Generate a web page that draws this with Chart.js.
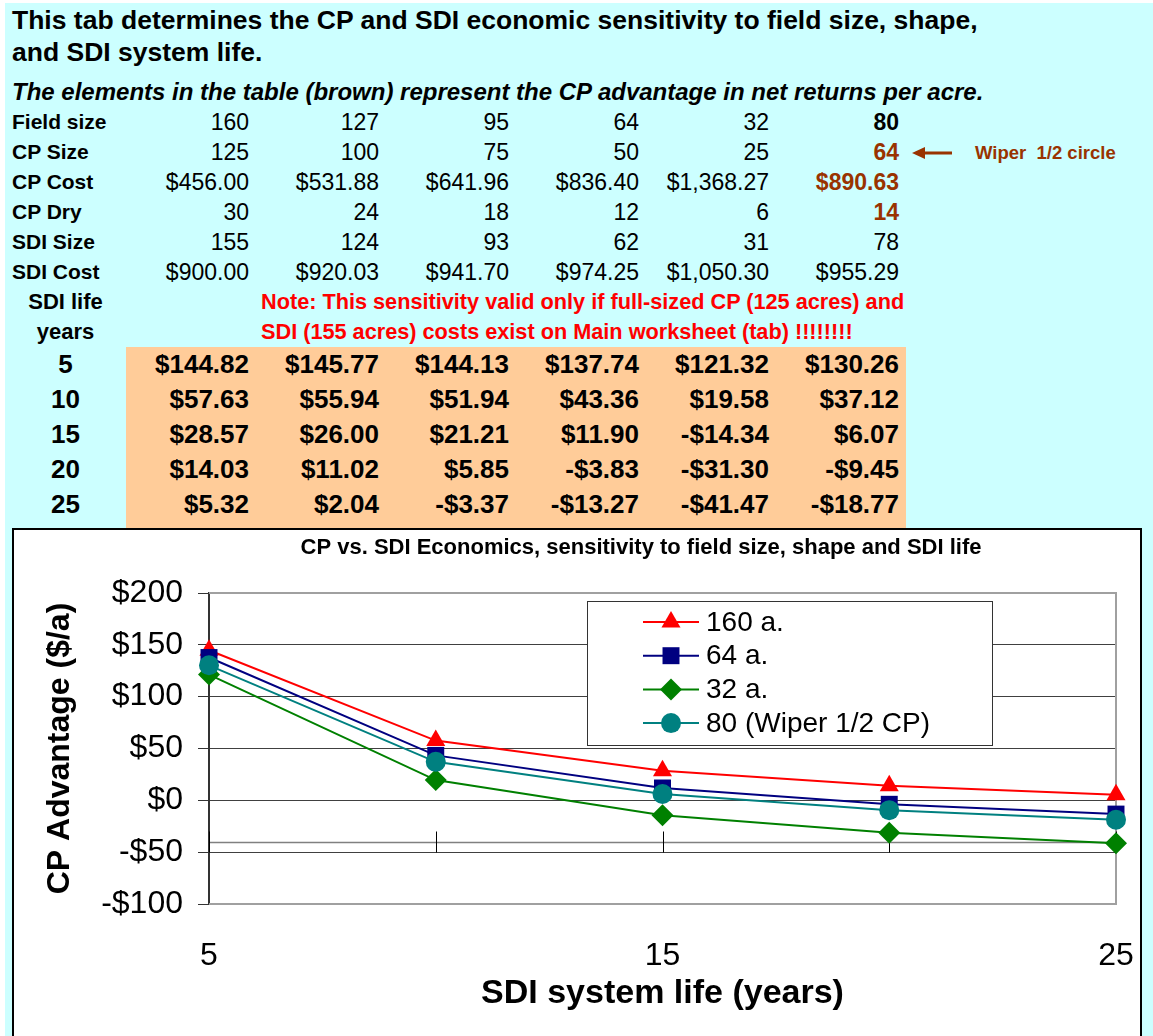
<!DOCTYPE html>
<html>
<head>
<meta charset="utf-8">
<title>CP vs. SDI Economics</title>
<script src="https://cdn.jsdelivr.net/npm/chart.js@4.4.1/dist/chart.umd.min.js"></script>
<style>
    html, body { margin: 0; padding: 0; width: 1153px; height: 1036px; overflow: hidden; background: #fff;
        font-family: "Liberation Sans", Arial, sans-serif; color: #000; }
    #sheet { position: absolute; left: 5px; top: 3px; width: 1148px; height: 1033px; background: #ccffff; }
    .head { position: absolute; left: 12px; font-weight: bold; white-space: nowrap; }
    #t1 { top: 4px; font-size: 26.5px; line-height: 32px; }
    #t2 { top: 77px; font-size: 24px; line-height: 30px; font-style: italic; }
    #grid { position: absolute; left: 5px; top: 107px; width: 1143px; border-collapse: collapse; table-layout: fixed; }
    #grid td { padding: 0 7px 0 0; white-space: nowrap; text-align: right; font-size: 23px; overflow: visible; }
    #grid td.lbl { text-align: left; padding-left: 7px; font-weight: bold; font-size: 21px; }
    #grid td.ctr { text-align: center; padding: 0; font-weight: bold; font-size: 22px; }
    #grid tr.top td { height: 30px; }
    #grid tr.adv td { height: 35px; font-weight: bold; font-size: 26px; }
    #grid tr.adv td.val { background: #ffcc99; }
    #grid td.bold { font-weight: bold; }
    #grid td.brown { font-weight: bold; color: #993300; }
    #grid td.note { color: #ff0000; font-weight: bold; font-size: 21.7px; text-align: left; padding-left: 5px; }
    #grid td.side { text-align: left; padding-left: 6px; color: #993300; font-weight: bold; font-size: 18.5px; }
    #box { position: absolute; left: 12px; top: 528px; width: 1126px; height: 506px; background: #fff;
        border: 2px solid #000; z-index: 2; }
    #wrap { position: relative; width: 1126px; height: 506px; }
</style>
</head>
<body>
<div id="sheet"></div>
<div class="head" id="t1">This tab determines the CP and SDI economic sensitivity to field size, shape,<br>and SDI system life.</div>
<div class="head" id="t2">The elements in the table (brown) represent the CP advantage in net returns per acre.</div>
<table id="grid"></table>
<div id="box"><div id="wrap"><canvas id="lineChart"></canvas></div></div>

<script>
// table inputs (columns = field sizes)
const fieldSize = [160, 127, 95, 64, 32, 80];
const cpSize = [125, 100, 75, 50, 25, 64];
const cpCost = [456.0, 531.88, 641.96, 836.4, 1368.27, 890.63];
const cpDry = [30, 24, 18, 12, 6, 14];
const sdiSize = [155, 124, 93, 62, 31, 78];
const sdiCost = [900.0, 920.03, 941.7, 974.25, 1050.3, 955.29];

// SDI life (years) and CP advantage ($/a) per field size
const years = [5, 10, 15, 20, 25];
const adv160 = [144.82, 57.63, 28.57, 14.03, 5.32];
const adv127 = [145.77, 55.94, 26.0, 11.02, 2.04];
const adv95 = [144.13, 51.94, 21.21, 5.85, -3.37];
const adv64 = [137.74, 43.36, 11.9, -3.83, -13.27];
const adv32 = [121.32, 19.58, -14.34, -31.3, -41.47];
const adv80 = [130.26, 37.12, 6.07, -9.45, -18.77];

const seriesNames = ["160 a.", "64 a.", "32 a.", "80 (Wiper 1/2 CP)"];
const xTickLabels = [5, 15, 25];
const yMin = -100;
const yMax = 200;
const yStep = 50;
const xAxisCross = -40;

const money = (v) => {
    const s = Math.abs(v).toFixed(2).replace(/\B(?=(\d{3})+(?!\d))/g, ",");
    return (v < 0 ? "-$" : "$") + s;
};

// Table
const grid = document.getElementById("grid");
let html = '<colgroup><col style="width:121px">';
for (let i = 0; i < 6; i++) html += '<col style="width:130px">';
html += '<col style="width:242px"></colgroup>';

const lastCls = ["bold", "brown", "brown", "brown", "", ""];
const topRows = [
    ["Field size", fieldSize.map(String)],
    ["CP Size", cpSize.map(String)],
    ["CP Cost", cpCost.map(money)],
    ["CP Dry", cpDry.map(String)],
    ["SDI Size", sdiSize.map(String)],
    ["SDI Cost", sdiCost.map(money)],
];
topRows.forEach((row, r) => {
    html += '<tr class="top"><td class="lbl">' + row[0] + "</td>";
    row[1].forEach((v, i) => {
        html += '<td class="' + (i === 5 ? lastCls[r] : "") + '">' + v + "</td>";
    });
    if (r === 1) {
        html += '<td class="side"><svg width="40" height="14" style="vertical-align:middle">' +
            '<polygon points="0,7 13,1 13,13" fill="#993300"/><rect x="12" y="5.5" width="28" height="3" fill="#993300"/></svg>' +
            '<span style="margin-left:23px;vertical-align:middle">Wiper&nbsp; 1/2 circle</span></td>';
    } else {
        html += "<td></td>";
    }
    html += "</tr>";
});
html += '<tr class="top"><td class="ctr">SDI life</td><td></td><td class="note" colspan="5">' +
    "Note: This sensitivity valid only if full-sized CP (125 acres) and</td><td></td></tr>";
html += '<tr class="top"><td class="ctr">years</td><td></td><td class="note" colspan="5">' +
    "SDI (155 acres) costs exist on Main worksheet (tab) !!!!!!!!</td><td></td></tr>";

const advCols = [adv160, adv127, adv95, adv64, adv32, adv80];
years.forEach((yr, r) => {
    html += '<tr class="adv"><td class="ctr">' + yr + "</td>";
    advCols.forEach((col) => {
        html += '<td class="val">' + money(col[r]) + "</td>";
    });
    html += "<td></td></tr>";
});
html += '<tr class="adv"><td class="ctr"></td>';
advCols.forEach(() => {
    html += '<td class="val">#VALUE!</td>';
});
html += "<td></td></tr>";
grid.innerHTML = html;

// Chart
Chart.defaults.font.family = '"Liberation Sans", Arial, sans-serif';
Chart.defaults.color = "#000";

const points = (vals) => years.map((yr, i) => ({ x: yr, y: vals[i] }));

const plotFrame = {
    id: "plotFrame",
    beforeDatasetsDraw(chart) {
        const { ctx, chartArea: a, scales } = chart;
        ctx.save();
        // gray plot border (top, right, bottom)
        ctx.strokeStyle = "#a0a0a0";
        ctx.lineWidth = 2;
        ctx.beginPath();
        ctx.moveTo(a.left, a.top);
        ctx.lineTo(a.right, a.top);
        ctx.lineTo(a.right, a.bottom);
        ctx.lineTo(a.left, a.bottom);
        ctx.stroke();
        // category axis crossing the value axis
        const yc = Math.round(scales.y.getPixelForValue(xAxisCross)) + 0.5;
        ctx.strokeStyle = "#808080";
        ctx.lineWidth = 1.5;
        ctx.beginPath();
        ctx.moveTo(a.left, yc);
        ctx.lineTo(a.right, yc);
        ctx.stroke();
        ctx.strokeStyle = "#000";
        ctx.lineWidth = 1;
        years.forEach((yr) => {
            const xp = Math.round(scales.x.getPixelForValue(yr)) + 0.5;
            ctx.beginPath();
            ctx.moveTo(xp, yc - 11);
            ctx.lineTo(xp, yc + 10);
            ctx.stroke();
        });
        ctx.restore();
    },
    afterDraw(chart) {
        const { ctx, chartArea: a } = chart;
        ctx.save();
        // title
        ctx.fillStyle = "#000";
        ctx.font = 'bold 22px "Liberation Sans", Arial, sans-serif';
        ctx.textAlign = "center";
        ctx.textBaseline = "middle";
        ctx.fillText("CP vs. SDI Economics, sensitivity to field size, shape and SDI life", a.left + 432, 18);
        // legend
        const lx = a.left + 378;
        const ly = a.top + 8;
        ctx.fillStyle = "#fff";
        ctx.fillRect(lx, ly, 405, 144);
        ctx.strokeStyle = "#333";
        ctx.lineWidth = 1;
        ctx.strokeRect(lx + 0.5, ly + 0.5, 405, 144);
        ctx.font = '28px "Liberation Sans", Arial, sans-serif';
        ctx.textAlign = "left";
        chart.data.datasets.forEach((ds, i) => {
            const cy = ly + 21 + i * 33.7;
            ctx.strokeStyle = ds.borderColor;
            ctx.lineWidth = 2;
            ctx.beginPath();
            ctx.moveTo(lx + 56, cy);
            ctx.lineTo(lx + 112, cy);
            ctx.stroke();
            ctx.fillStyle = ds.backgroundColor;
            Chart.helpers.drawPoint(ctx, {
                pointStyle: ds.pointStyle,
                radius: ds.pointRadius,
                rotation: 0,
                borderWidth: 0,
            }, lx + 84, cy);
            ctx.fillStyle = "#000";
            ctx.fillText(ds.label, lx + 119, cy + 1);
        });
        ctx.restore();
    },
};

const lineChart = document.getElementById("lineChart");
new Chart(lineChart, {
    type: "line",
    data: {
        datasets: [
            {
                label: seriesNames[0],
                data: points(adv160),
                borderColor: "#ff0000",
                backgroundColor: "#ff0000",
                pointStyle: "triangle",
                pointRadius: 11,
                order: 4,
            },
            {
                label: seriesNames[1],
                data: points(adv64),
                borderColor: "#000080",
                backgroundColor: "#000080",
                pointStyle: "rect",
                pointRadius: 12,
                order: 3,
            },
            {
                label: seriesNames[2],
                data: points(adv32),
                borderColor: "#008000",
                backgroundColor: "#008000",
                pointStyle: "rectRot",
                pointRadius: 11,
                order: 2,
            },
            {
                label: seriesNames[3],
                data: points(adv80),
                borderColor: "#008080",
                backgroundColor: "#008080",
                pointStyle: "circle",
                pointRadius: 10,
                order: 1,
            },
        ],
    },
    options: {
        responsive: true,
        maintainAspectRatio: false,
        animation: false,
        devicePixelRatio: 1,
        clip: false,
        elements: {
            line: { borderWidth: 2, tension: 0 },
            point: { borderWidth: 0, hoverRadius: 11 },
        },
        layout: { padding: { top: 63, right: 24, left: 0, bottom: 0 } },
        scales: {
            x: {
                type: "linear",
                min: years[0],
                max: years[years.length - 1],
                afterFit: (axis) => {
                    axis.height = 132;
                    axis.paddingLeft = 0;
                    axis.paddingRight = 0;
                },
                grid: { display: false, drawTicks: false },
                border: { display: false },
                ticks: {
                    stepSize: 5,
                    autoSkip: false,
                    maxRotation: 0,
                    padding: 33,
                    font: { size: 32 },
                    callback: (v) => (xTickLabels.includes(v) ? String(v) : ""),
                },
                title: {
                    display: true,
                    text: "SDI system life (years)",
                    font: { size: 34, weight: "bold" },
                    padding: { top: 0, bottom: 22 },
                },
            },
            y: {
                min: yMin,
                max: yMax,
                afterFit: (axis) => {
                    axis.width = 195;
                    axis.paddingTop = 0;
                    axis.paddingBottom = 0;
                },
                grid: { color: "#404040", lineWidth: 1, tickLength: 11, tickColor: "#333" },
                border: { display: true, color: "#333", width: 2 },
                ticks: {
                    stepSize: yStep,
                    padding: 15,
                    font: { size: 32 },
                    callback: (v) => (v < 0 ? "-$" + Math.abs(v) : "$" + v),
                },
                title: {
                    display: true,
                    text: "CP Advantage ($/a)",
                    font: { size: 32, weight: "bold" },
                    padding: { top: 27, bottom: 0 },
                },
            },
        },
        plugins: {
            legend: { display: false },
            title: { display: false },
            tooltip: { enabled: false },
        },
    },
    plugins: [plotFrame],
});
</script>
</body>
</html>
